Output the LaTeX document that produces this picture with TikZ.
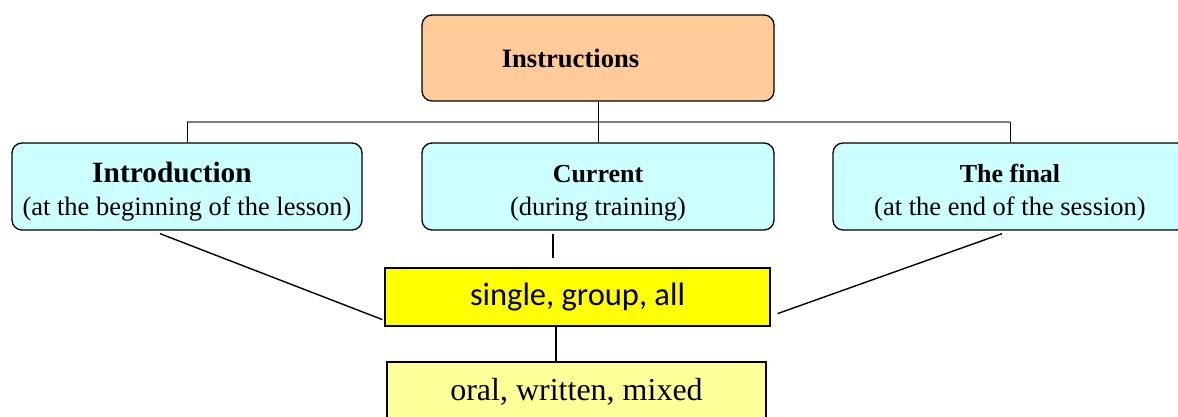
\documentclass[tikz,border=0pt]{standalone}
\usepackage{fontspec}
\setmainfont{Liberation Serif}
\newfontfamily\calibri{Carlito}
\newcommand\topline{\rule{0pt}{32pt}}
\newcommand\botline{\rule[-8pt]{0pt}{8pt}}
\begin{document}
\begin{tikzpicture}[x=1pt,y=-1pt,
  box/.style={draw,line width=1.3pt,rounded corners=10pt,align=center,inner sep=0pt},
  headbox/.style={box,fill=head,minimum width=352pt,minimum height=86pt},
  kindbox/.style={box,fill=kind,minimum height=87pt,font=\fontsize{26.5}{33}\selectfont},
  flatbox/.style={box,rounded corners=0pt,line width=1.2pt,minimum height=58pt},
  link/.style={line width=1.4pt}]
\definecolor{head}{HTML}{FFCC99}
\definecolor{kind}{HTML}{CCFFFF}
\definecolor{grp}{HTML}{FFFF00}
\definecolor{form}{HTML}{FFFF99}
\useasboundingbox (0,0) rectangle (1178,417);
\node[headbox,font=\fontsize{26.6}{30}\selectfont\bfseries] (instr) at (598,58) {Instructions\hspace{55pt}};
\node[kindbox,minimum width=350pt] (intro) at (187,186.5) {\topline{\fontsize{29.4}{33}\selectfont\bfseries Introduction}\hspace*{30pt}\\(at the beginning of the lesson)\botline};
\node[kindbox,minimum width=352pt] (current) at (598,186.5) {\topline{\fontsize{26}{33}\selectfont\bfseries Current}\\(during training)\botline};
\node[kindbox,minimum width=354pt] (final) at (1010,186.5) {\topline{\fontsize{26}{33}\selectfont\bfseries The final}\\(at the end of the session)\botline};
\node[flatbox,fill=grp,minimum width=385pt,font=\calibri\fontsize{32.5}{36}\selectfont] (single) at (577.5,297) {single, group, all};
\node[flatbox,fill=form,minimum width=379pt,minimum height=60pt,font=\fontsize{32}{36}\selectfont] (modes) at (576.5,392) {oral, written, mixed};
\coordinate (bus) at (598,122);
\coordinate (stub) at (553,258);
\draw[gray,line width=1.5pt] (intro.north |- bus) -- (final.north |- bus);
\draw[line width=1pt] (instr.south) -- (current.north);
\draw[line width=1pt] (intro.north) -- (intro.north |- bus);
\draw[line width=1pt] (final.north) -- (final.north |- bus);
\draw[link] ([xshift=-27pt,yshift=-3pt]intro.south) -- ([xshift=-2pt,yshift=7pt]single.south west);
\draw[link] ([xshift=-45pt,yshift=-3pt]current.south) -- (stub);
\draw[link] ([xshift=-8pt,yshift=-3pt]final.south) -- ([xshift=7pt,yshift=13pt]single.south east);
\draw[link] ([xshift=-21.5pt]single.south) -- ([xshift=-21.5pt]single.south |- modes.north);
\end{tikzpicture}
\end{document}
